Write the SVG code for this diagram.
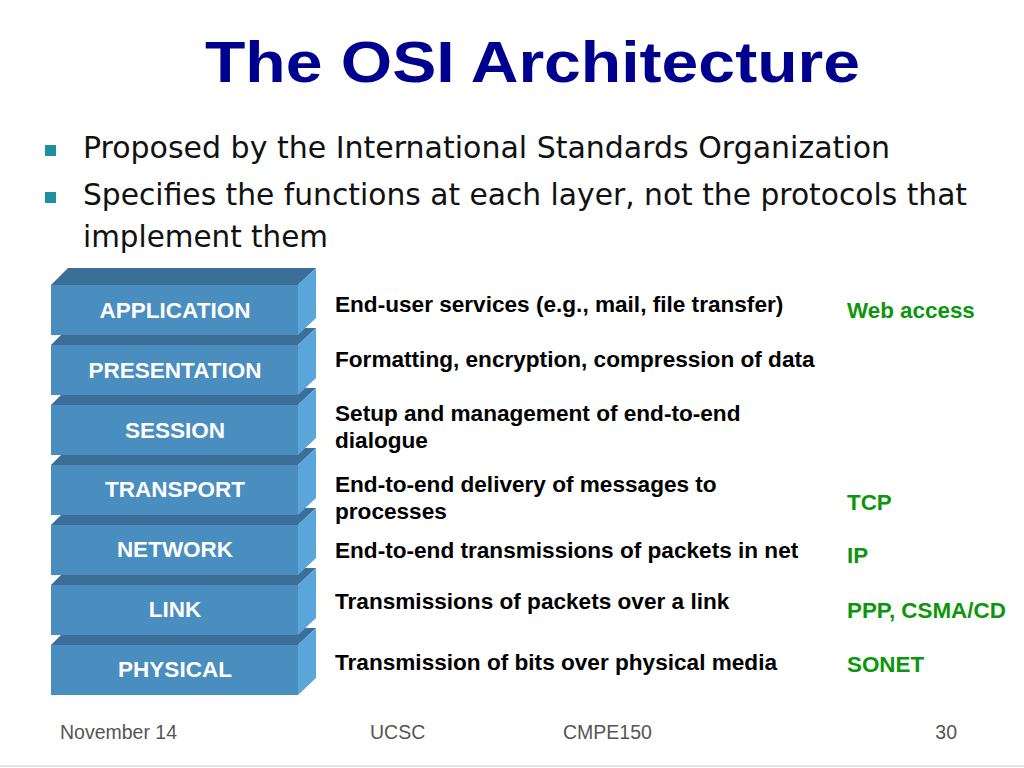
<svg xmlns="http://www.w3.org/2000/svg" width="1024" height="768" viewBox="0 0 1024 768">
<style>
.title{font-family:"Liberation Sans",Arial,sans-serif;font-weight:bold;font-size:58px;fill:#00008f}
.bul{font-family:"DejaVu Sans",Tahoma,sans-serif;font-size:31px;fill:#111}
.sq{fill:#1e8fa0}
.front{fill:#4a8ec0}
.top{fill:#3b6f98}
.side{fill:#5aa6da}
.lbl{font-family:"Liberation Sans",Arial,sans-serif;font-weight:bold;font-size:22.5px;fill:#fff;text-anchor:middle}
.desc{font-family:"Liberation Sans",Arial,sans-serif;font-weight:bold;font-size:22.6px;fill:#000}
.grn{font-family:"Liberation Sans",Arial,sans-serif;font-weight:bold;font-size:22.4px;fill:#0c960c}
.foot{font-family:"Liberation Sans",Arial,sans-serif;font-size:19.5px;fill:#555}
</style>
<defs>
<g id="layer">
<polygon class="top" points="51,17 68,0 316,0 298,17"/>
<polygon class="side" points="298,17 316,0 316,50 298,67"/>
<rect class="front" x="51" y="17" width="247" height="50"/>
</g>
</defs>
<rect width="1024" height="768" fill="#fff"/>
<text class="title" x="205" y="82" textLength="655" lengthAdjust="spacingAndGlyphs">The OSI Architecture</text>
<g id="bullets">
<rect class="sq" x="45" y="145" width="11" height="11"/>
<text class="bul" x="83" y="158" textLength="807" lengthAdjust="spacingAndGlyphs">Proposed by the International Standards Organization</text>
<rect class="sq" x="45" y="192" width="11" height="11"/>
<text class="bul" x="83" y="205" textLength="884" lengthAdjust="spacingAndGlyphs">Specifies the functions at each layer, not the protocols that</text>
<text class="bul" x="83" y="247" textLength="245" lengthAdjust="spacingAndGlyphs">implement them</text>
</g>
<g id="physical"><use href="#layer" x="0" y="628"/><text class="lbl" x="175" y="677">PHYSICAL</text></g>
<g id="link"><use href="#layer" x="0" y="568"/><text class="lbl" x="175" y="617">LINK</text></g>
<g id="network"><use href="#layer" x="0" y="508"/><text class="lbl" x="175" y="557">NETWORK</text></g>
<g id="transport"><use href="#layer" x="0" y="448"/><text class="lbl" x="175" y="497">TRANSPORT</text></g>
<g id="session"><use href="#layer" x="0" y="388"/><text class="lbl" x="175" y="438">SESSION</text></g>
<g id="presentation"><use href="#layer" x="0" y="328"/><text class="lbl" x="175" y="378">PRESENTATION</text></g>
<g id="application"><use href="#layer" x="0" y="268"/><text class="lbl" x="175" y="318">APPLICATION</text></g>
<g id="descriptions">
<text class="desc" x="335" y="312">End-user services (e.g., mail, file transfer)</text>
<text class="desc" x="335" y="367">Formatting, encryption, compression of data</text>
<text class="desc" x="335" y="421">Setup and management of end-to-end</text>
<text class="desc" x="335" y="448">dialogue</text>
<text class="desc" x="335" y="492">End-to-end delivery of messages to</text>
<text class="desc" x="335" y="519">processes</text>
<text class="desc" x="335" y="558">End-to-end transmissions of packets in net</text>
<text class="desc" x="335" y="609">Transmissions of packets over a link</text>
<text class="desc" x="335" y="670">Transmission of bits over physical media</text>
</g>
<g id="examples">
<text class="grn" x="847" y="318">Web access</text>
<text class="grn" x="847" y="510">TCP</text>
<text class="grn" x="847" y="563">IP</text>
<text class="grn" x="847" y="618">PPP, CSMA/CD</text>
<text class="grn" x="847" y="672">SONET</text>
</g>
<g id="footer">
<text class="foot" x="60" y="739">November 14</text>
<text class="foot" x="370" y="739">UCSC</text>
<text class="foot" x="563" y="739">CMPE150</text>
<text class="foot" x="957" y="739" text-anchor="end">30</text>
<line x1="0" y1="766" x2="1024" y2="766" stroke="#e4e4e4" stroke-width="2"/>
</g>
</svg>
